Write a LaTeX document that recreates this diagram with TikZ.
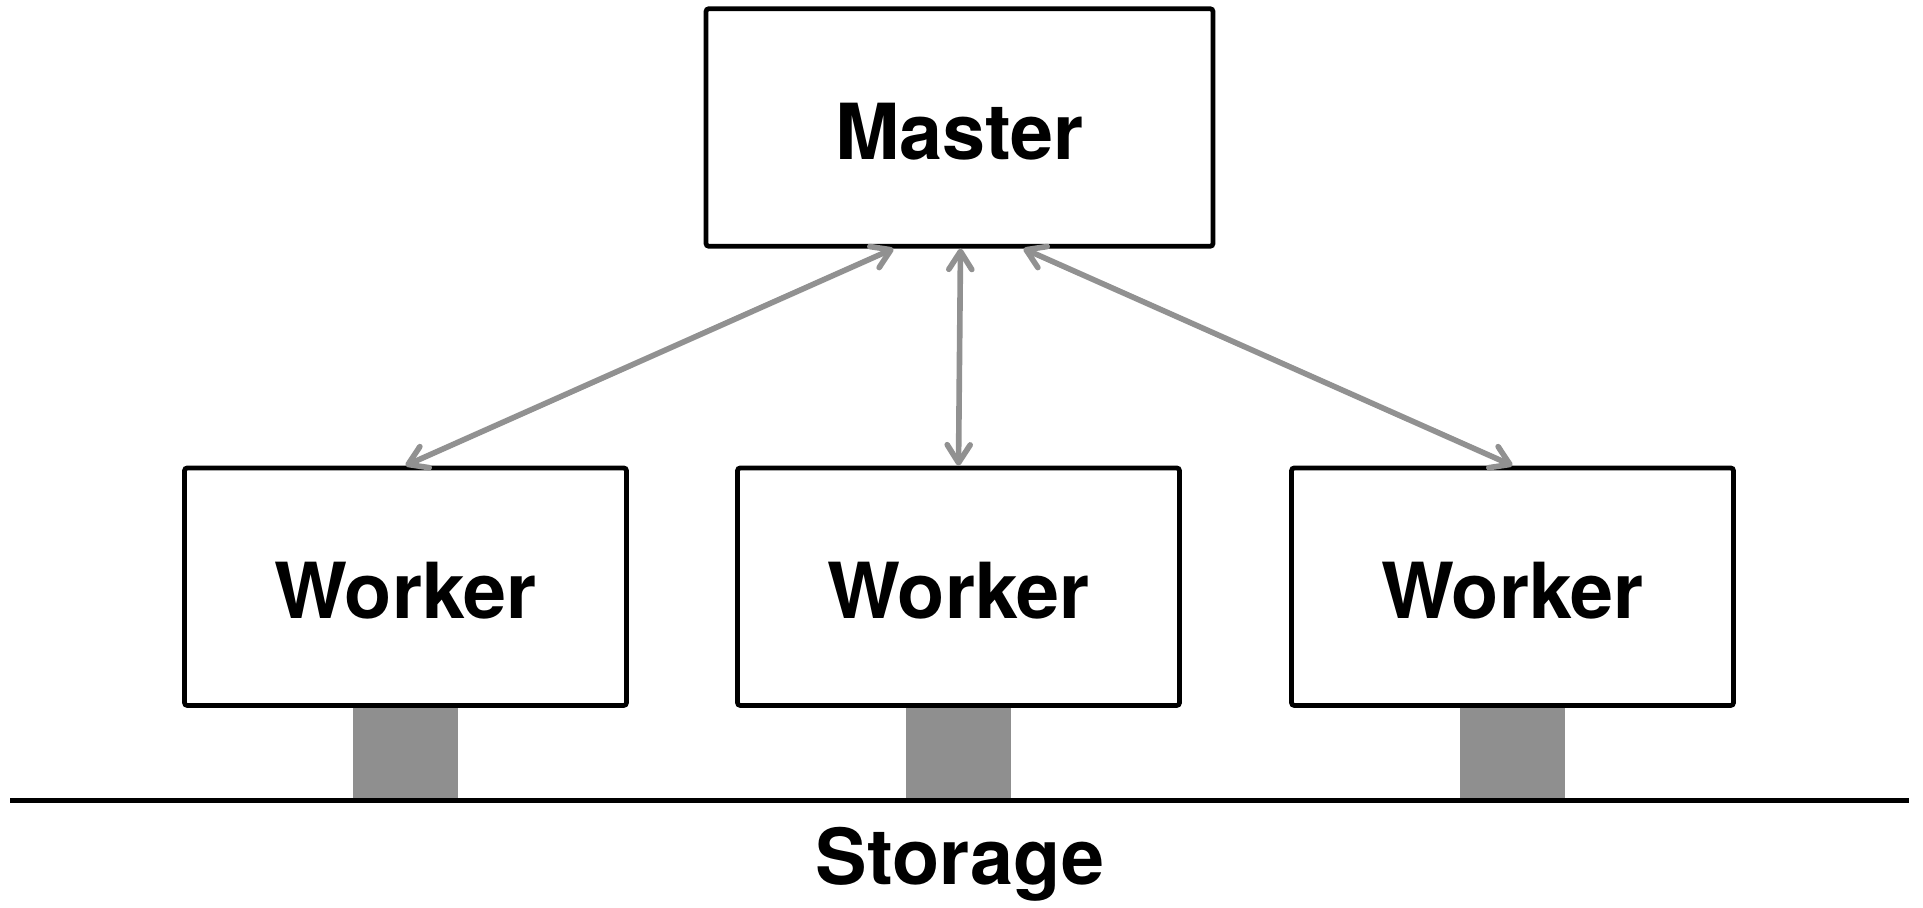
\documentclass[tikz,border=0pt]{standalone}
\usepackage{fontspec}
\setmainfont{TeX Gyre Heros}
\usetikzlibrary{arrows.meta,calc}
\pgfdeclarelayer{back}
\pgfsetlayers{back,main}
\definecolor{linkgray}{HTML}{919191}
\definecolor{diskgray}{HTML}{8F8F8F}
\tikzset{
  box/.style={draw=black, line width=2.7pt, rounded corners=1.5pt, fill=white,
    minimum height=4.75cm, inner sep=0pt, text height=1.28cm, text depth=0pt,
    font=\fontsize{44}{50}\selectfont\bfseries},
  masterbox/.style={box, minimum width=10.14cm},
  workerbox/.style={box, minimum width=8.84cm},
  link/.style={draw=linkgray, line width=3.2pt, line cap=round,
    {Straight Barb[length=0.36cm, width=0.46cm, line cap=round, line join=round]}-{Straight Barb[length=0.36cm, width=0.46cm, line cap=round, line join=round]}},
  disk/.style={fill=diskgray},
  busline/.style={draw=black, line width=2.9pt},
  label/.style={font=\fontsize{44}{50}\selectfont\bfseries, inner sep=0pt}
}
\begin{document}
\begin{tikzpicture}[x=0.02cm, y=-0.02cm]
  \useasboundingbox (0,0) rectangle (1923,907);

  % master and workers
  \node[masterbox] (master) at (959.5,127.5) {Master};
  \node[workerbox] (w1) at (405.5,586.7) {Worker};
  \node[workerbox] (w2) at (958.5,586.7) {Worker};
  \node[workerbox] (w3) at (1512.5,586.7) {Worker};

  % storage bus
  \coordinate (busL) at (10,800.5);
  \coordinate (busR) at (1909,800.5);

  % disk columns from each worker down to the bus, behind the boxes
  \begin{pgfonlayer}{back}
    \foreach \w in {w1,w2,w3}{
      \fill[disk] ($(\w.south)+(-52.5,-6)$) rectangle ($(\w.south |- busL)+(52.5,0)$);
    }
  \end{pgfonlayer}
  \draw[busline] (busL) -- (busR);

  \node[label, anchor=base] (storage) at (960,884) {Storage};

  % master <-> worker links
  \draw[link] ($(master.south)+(-66,0)$) -- (w1.north);
  \draw[link] ($(master.south)+(1,0)$) -- (w2.north);
  \draw[link] ($(master.south)+(64,0)$) -- (w3.north);
\end{tikzpicture}
\end{document}
